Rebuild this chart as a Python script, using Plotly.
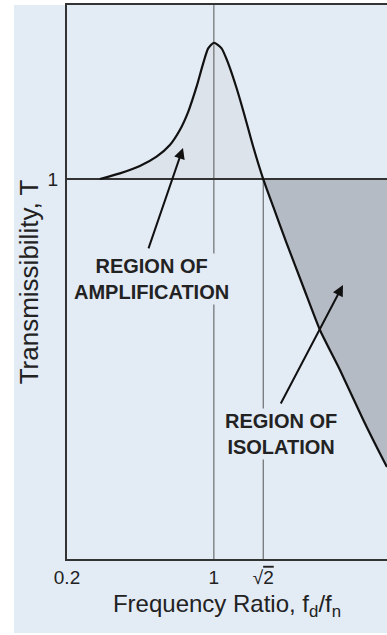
import plotly.graph_objects as go

# transmissibility curve (log-log axes)
ratio = [0.2865, 0.3567, 0.4442, 0.5336, 0.6173, 0.6887, 0.7546, 0.8272, 0.8893, 0.9394,
         1.0, 1.088, 1.170, 1.283, 1.405, 1.539, 1.717,
         1.916, 2.220, 2.662, 3.197, 3.981, 5.140, 6.401, 6.666]
trans = [1.0, 1.035, 1.082, 1.145, 1.229, 1.346, 1.503, 1.750, 2.016, 2.208,
         2.284, 2.208, 2.016, 1.733, 1.459, 1.216, 1.0,
         0.8457, 0.6774, 0.5206, 0.4006, 0.3143, 0.2322, 0.1822, 0.1746]

x_ticks = [0.2, 1.0, 1.717]
x_labels = ["0.2", "1", "√<span style='text-decoration:overline'>2</span>"]
y_ticks = [1.0]
y_labels = ["1"]

X_MIN, X_MAX = 0.2, 6.666
Y_MIN, Y_MAX = 0.1, 2.87

BG = "#e3ebf5"
INK = "#222222"
FONT = "Liberation Sans, Arial, sans-serif"

cross = ratio.index(x_ticks[2])

fig = go.Figure()

# region of amplification (curve above T=1)
fig.add_trace(go.Scatter(x=ratio[:cross + 1], y=trans[:cross + 1], fill="toself",
                         fillcolor="#dce3eb", mode="lines",
                         line=dict(width=0, shape="spline", smoothing=0.6), hoverinfo="skip"))
# region of isolation (between T=1 and the curve, right of sqrt2)
fig.add_trace(go.Scatter(x=ratio[cross:] + [X_MAX], y=trans[cross:] + [1.0], fill="toself",
                         fillcolor="#b4bbc4", mode="lines",
                         line=dict(width=0), hoverinfo="skip"))

# reference lines
fig.add_trace(go.Scatter(x=[x_ticks[1], x_ticks[1]], y=[Y_MIN, Y_MAX], mode="lines",
                         line=dict(color="#555555", width=1), hoverinfo="skip"))
fig.add_trace(go.Scatter(x=[x_ticks[2], x_ticks[2]], y=[Y_MIN, 1.0], mode="lines",
                         line=dict(color="#555555", width=1), hoverinfo="skip"))
fig.add_trace(go.Scatter(x=[X_MIN, X_MAX], y=[1.0, 1.0], mode="lines",
                         line=dict(color="#333333", width=2), hoverinfo="skip"))

# curve
fig.add_trace(go.Scatter(x=ratio, y=trans, mode="lines",
                         line=dict(color="#111111", width=2.2, shape="spline", smoothing=0.6),
                         hoverinfo="skip"))

# background panel
fig.add_shape(type="rect", xref="paper", yref="paper", x0=-0.1656, x1=1.0, y0=-0.1336, y1=1.0,
              fillcolor=BG, line_width=0, layer="below")

lbl = dict(size=20, color=INK, family=FONT)
fig.add_annotation(text="<b>REGION OF<br>AMPLIFICATION</b>", xref="paper", yref="paper",
                   x=0.2656, y=0.5054, xanchor="center", yanchor="middle",
                   showarrow=False, font=lbl, bgcolor=BG)
fig.add_annotation(text="<b>REGION OF<br>ISOLATION</b>", xref="paper", yref="paper",
                   x=0.669, y=0.2256, xanchor="center", yanchor="middle",
                   showarrow=False, font=lbl, bgcolor=BG)

arrow = dict(showarrow=True, arrowhead=2, arrowsize=1.1, arrowwidth=2, arrowcolor="#111111",
             text="", xref="paper", yref="paper", standoff=0)
fig.add_annotation(x=0.3625, y=0.742, ax=-35, ay=102, **arrow)
fig.add_annotation(x=0.8625, y=0.4946, ax=-63, ay=120, **arrow)

fig.update_layout(
    width=387, height=635, autosize=False,
    margin=dict(l=67, r=0, t=5, b=76),
    paper_bgcolor="white", plot_bgcolor=BG,
    showlegend=False,
    font=dict(family=FONT, color=INK),
)
fig.update_xaxes(type="log", range=[-0.699, 0.8238], tickvals=x_ticks, ticktext=x_labels,
                 showgrid=False, zeroline=False, showline=True, mirror=True,
                 linecolor="#333333", linewidth=2, ticks="", ticklabelstandoff=0,
                 tickfont=dict(size=19, color=INK),
                 title=dict(text="Frequency Ratio, f<sub>d</sub>/f<sub>n</sub>",
                            font=dict(size=24, color=INK), standoff=8))
fig.update_yaxes(type="log", range=[-1, 0.458], tickvals=y_ticks, ticktext=y_labels,
                 showgrid=False, zeroline=False, showline=True, mirror=False,
                 linecolor="#333333", linewidth=2, ticks="", ticklabelstandoff=3,
                 tickfont=dict(size=19, color=INK),
                 title=dict(text="Transmissibility, T", font=dict(size=26, color=INK), standoff=2))

# the page body has a default 8px margin; drop it so the figure fills the window
fig.write_html("out.html", config={"displayModeBar": False},
               post_script="document.body.style.margin='0px';")
